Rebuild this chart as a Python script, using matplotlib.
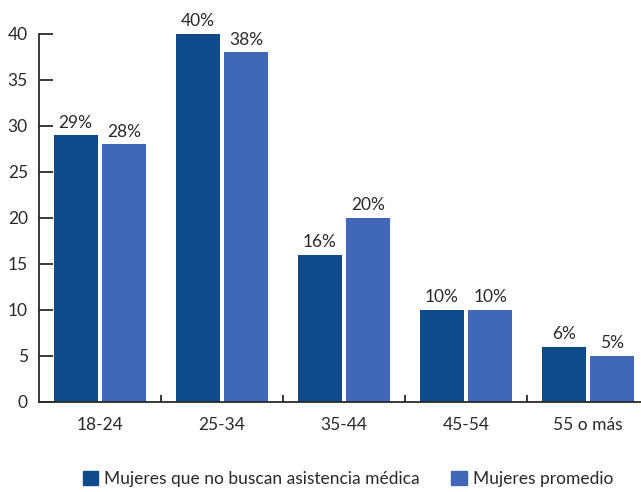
import matplotlib
matplotlib.use("Agg")
import matplotlib.pyplot as plt
import numpy as np
from matplotlib.patches import Patch

categories = ["18-24", "25-34", "35-44", "45-54", "55 o más"]
series_names = ["Mujeres que no buscan asistencia médica", "Mujeres promedio"]
no_buscan = [29, 40, 16, 10, 6]
promedio = [28, 38, 20, 10, 5]
yticks = [0, 5, 10, 15, 20, 25, 30, 35, 40]

dark = "#0F4A8A"
light = "#4167B8"
txt = "#2a2a2a"

plt.rcParams['font.family'] = ['Lato', 'DejaVu Sans']
fs = 12.5

fig = plt.figure(figsize=(6.41, 4.92), dpi=100)
ax = fig.add_axes([39/641, 1-402/492, 602/641, (402-34)/492])

x = np.arange(len(categories))
w = 0.36
b1 = ax.bar(x - 0.2, no_buscan, w, color=dark, clip_on=False)
b2 = ax.bar(x + 0.2, promedio, w, color=light, clip_on=False)
for bars, vals in ((b1, no_buscan), (b2, promedio)):
    for r, v in zip(bars, vals):
        ax.text(r.get_x() + r.get_width()/2, v + 0.5, f"{v}%", ha="center", va="bottom",
                fontsize=fs, color=txt)

ax.set_xlim(-0.5, -0.5 + 602/122)
ax.set_ylim(0, 40)
ax.set_yticks(yticks)
ax.set_xticks(x)
ax.set_xticklabels(categories)
ax.set_xticks(np.arange(0.5, 4.5, 1), minor=True)
ax.tick_params(axis='x', which='major', length=0, pad=11, labelsize=fs, labelcolor=txt)
ax.tick_params(axis='x', which='minor', direction='in', length=5, width=1.3, color=txt)
ax.tick_params(axis='y', direction='in', length=10, width=1.3, color=txt, labelsize=fs,
               labelcolor=txt, pad=8)
for s in ("top", "right"):
    ax.spines[s].set_visible(False)
for s in ("left", "bottom"):
    ax.spines[s].set_color(txt)
    ax.spines[s].set_linewidth(1.3)

handles = [Patch(color=dark), Patch(color=light)]
fig.legend(handles, series_names, loc="center", bbox_to_anchor=(348/641, 13/492),
           ncol=2, frameon=False, fontsize=fs, handlelength=0.9, handleheight=0.9,
           handletextpad=0.35, columnspacing=1.8, labelcolor=txt)

fig.savefig("out.png", dpi=100)
